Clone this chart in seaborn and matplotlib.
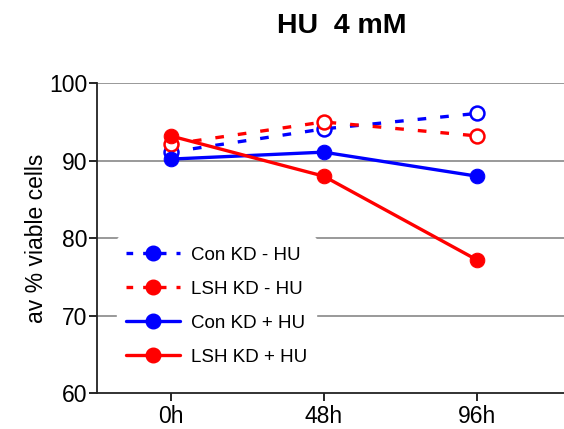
import matplotlib
matplotlib.use("Agg")
import matplotlib.pyplot as plt
import seaborn as sns
import pandas as pd
from matplotlib.lines import Line2D

timepoints = ["0h", "48h", "96h"]
con_minus_hu = [91.1, 94.1, 96.1]
lsh_minus_hu = [92.1, 95.0, 93.2]
con_plus_hu = [90.2, 91.1, 88.0]
lsh_plus_hu = [93.2, 88.0, 77.2]
series_names = ["Con KD - HU", "LSH KD - HU", "Con KD + HU", "LSH KD + HU"]
series_values = [con_minus_hu, lsh_minus_hu, con_plus_hu, lsh_plus_hu]
yticks = [60, 70, 80, 90, 100]

sns.set_theme(style="white")
plt.rcParams["font.family"] = ["Liberation Sans", "DejaVu Sans"]
plt.rcParams["text.color"] = "black"
plt.rcParams["axes.labelcolor"] = "black"

fig = plt.figure(figsize=(5.64, 4.29), dpi=100)
ax = fig.add_axes([0.172, 0.084, 0.828, 0.722])

colors = ["#0000ff", "#ff0000", "#0000ff", "#ff0000"]
dashed = [True, True, False, False]
lw = 2.4

rows = []
for name, vals in zip(series_names, series_values):
    for i, v in enumerate(vals):
        rows.append({"series": name, "x": i, "value": v})
df = pd.DataFrame(rows)

# grid lines
for yv in yticks[1:]:
    ax.axhline(yv, color="#999999", lw=1.4, zorder=0)

for k in range(4):
    name = series_names[k]
    sub = df[df.series == name]
    if dashed[k]:
        sns.lineplot(data=sub, x="x", y="value", ax=ax, color=colors[k], lw=lw,
                     marker="o", markersize=10, markerfacecolor="white",
                     markeredgecolor=colors[k], markeredgewidth=1.8,
                     zorder=2 + k)
        ax.lines[-1].set_linestyle((0, (2.6, 4.2)))
    else:
        sns.lineplot(data=sub, x="x", y="value", ax=ax, color=colors[k], lw=lw,
                     marker="o", markersize=10.5, markerfacecolor=colors[k],
                     markeredgecolor=colors[k], zorder=6 + k)

ax.set_xlim(-0.48, 2.57)
ax.set_ylim(60, 100)
ax.set_xticks(range(len(timepoints)))
ax.set_xticklabels(timepoints)
ax.set_yticks(yticks)
ax.set_xlabel("")
ax.set_ylabel("av % viable cells", fontsize=16.5, color="black", labelpad=1)
ax.tick_params(axis="y", pad=1)
ax.tick_params(axis="x", pad=3)
ax.tick_params(axis="both", labelsize=16.5, colors="black", length=6, width=1.2,
               direction="out", bottom=True, left=True)
for s in ["top", "right"]:
    ax.spines[s].set_visible(False)
for s in ["left", "bottom"]:
    ax.spines[s].set_color("#222222")
    ax.spines[s].set_linewidth(1.3)

ax.set_title("HU  4 mM", fontsize=20.5, fontweight="bold", color="black",
             pad=36, x=0.525)

handles = []
for k in range(4):
    handles.append(Line2D([0], [0], color=colors[k], lw=lw,
                          linestyle=(0, (2.0, 3.0)) if dashed[k] else "-",
                          marker="o", markersize=10.5, markerfacecolor=colors[k],
                          markeredgecolor=colors[k]))
leg = ax.legend(handles, series_names, loc="lower left", bbox_to_anchor=(0.03, 0.04),
                frameon=True, framealpha=1, edgecolor="white", facecolor="white",
                fontsize=13.5, handlelength=2.9, labelspacing=0.9, borderpad=0.5,
                handletextpad=0.55, borderaxespad=0.3)
leg.set_zorder(20)

fig.savefig("out.png", dpi=100)
